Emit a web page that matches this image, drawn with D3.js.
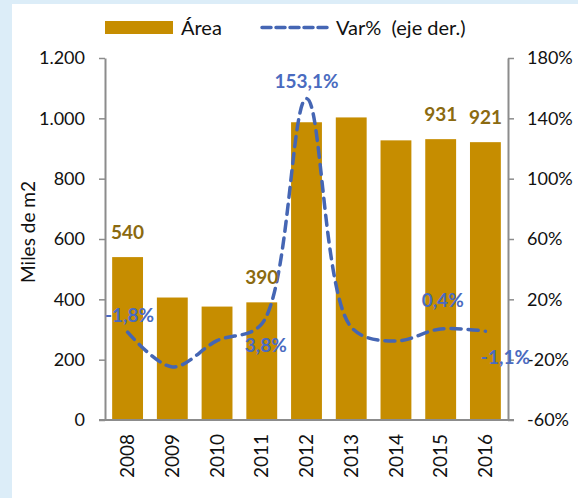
<!DOCTYPE html>
<html>
<head>
<meta charset="utf-8">
<script src="https://cdn.jsdelivr.net/npm/d3@7"></script>
<style>
  body { margin: 0; background: #dcedf8; }
  svg { display: block; }
  text { font-family: Lato, "Open Sans", sans-serif; }
</style>
</head>
<body>
<div id="chart"></div>
<script>
// values
const years = ["2008", "2009", "2010", "2011", "2012", "2013", "2014", "2015", "2016"];
const area = [540, 406, 376, 390, 987, 1003, 927, 931, 921];
const varPct = [-1.8, -24.8, -7.4, 3.8, 153.1, 1.6, -7.6, 0.4, -1.1];
const leftTicks = [0, 200, 400, 600, 800, 1000, 1200];
const rightTicks = [-60, -20, 20, 60, 100, 140, 180];
// which bars / points carry a data label
const areaLabelIdx = [0, 3, 7, 8];
const varLabelIdx = [0, 3, 4, 7, 8];

const width = 578;
const height = 498;
const barColor = "#c68d00";
const barLabelColor = "#8b6a10";
const lineColor = "#4566b4";
const varLabelColor = "#4a6bc0";
const axisColor = "#8c8c8c";

const locale = d3.formatLocale({decimal: ",", thousands: ".", grouping: [3], currency: ["", ""], minus: "-"});
const fmtNum = locale.format(",d");
const fmtPct = d => locale.format(".1f")(d) + "%";

const plot = {left: 105, right: 508, top: 58, bottom: 420};

const svg = d3.select("#chart").append("svg")
  .attr("width", width)
  .attr("height", height);

// white panel over the light blue page
svg.append("rect")
  .attr("x", 12).attr("y", 4)
  .attr("width", width - 12).attr("height", height - 4)
  .attr("fill", "#ffffff");

const x = d3.scaleBand()
  .domain(years)
  .range([plot.left, plot.right])
  .paddingInner(0.31)
  .paddingOuter(0.16);

const yL = d3.scaleLinear().domain([0, 1200]).range([plot.bottom, plot.top]);
const yR = d3.scaleLinear().domain([-60, 180]).range([plot.bottom, plot.top]);

// bars
svg.append("g").selectAll("rect")
  .data(area)
  .join("rect")
  .attr("x", (d, i) => x(years[i]))
  .attr("y", d => yL(d))
  .attr("width", x.bandwidth())
  .attr("height", d => yL(0) - yL(d))
  .attr("fill", barColor);

// left axis
const leftAxis = svg.append("g")
  .attr("transform", `translate(${plot.left},0)`)
  .call(d3.axisLeft(yL).tickValues(leftTicks).tickFormat(fmtNum).tickSize(6).tickSizeOuter(0).tickPadding(14));

// right axis
const rightAxis = svg.append("g")
  .attr("transform", `translate(${plot.right},0)`)
  .call(d3.axisRight(yR).tickValues(rightTicks).tickFormat(d => d + "%").tickSize(6).tickSizeOuter(0).tickPadding(13));

[leftAxis, rightAxis].forEach(a => {
  a.select(".domain").attr("stroke", axisColor).attr("stroke-width", 2);
  a.selectAll(".tick line").attr("stroke", axisColor).attr("stroke-width", 1.5);
  a.selectAll(".tick text").attr("fill", "#111").style("font-size", "18px");
});

// zero line / category axis
svg.append("line")
  .attr("x1", plot.left - 6).attr("x2", plot.right + 6)
  .attr("y1", yL(0)).attr("y2", yL(0))
  .attr("stroke", axisColor).attr("stroke-width", 2);

svg.append("g").selectAll("text")
  .data(years)
  .join("text")
  .attr("transform", d => `translate(${x(d) + x.bandwidth() / 2},${plot.bottom + 14}) rotate(-90)`)
  .attr("text-anchor", "end")
  .attr("dy", "0.35em")
  .style("font-size", "19px")
  .attr("fill", "#111")
  .text(d => d);

// y axis title
svg.append("text")
  .attr("transform", `translate(28,232) rotate(-90)`)
  .attr("text-anchor", "middle")
  .attr("dy", "0.35em")
  .style("font-size", "19px")
  .attr("fill", "#111")
  .text("Miles de m2");

// var% line
const cx = i => x(years[i]) + x.bandwidth() / 2;
svg.append("path")
  .datum(varPct)
  .attr("fill", "none")
  .attr("stroke", lineColor)
  .attr("stroke-width", 3.5)
  .attr("stroke-dasharray", "10,7")
  .attr("stroke-linecap", "round")
  .attr("d", d3.line()
    .x((d, i) => cx(i))
    .y(d => yR(d))
    .curve(d3.curveCatmullRom.alpha(0.5)));

// bar labels
svg.append("g").selectAll("text")
  .data(areaLabelIdx)
  .join("text")
  .attr("x", i => cx(i))
  .attr("y", i => yL(area[i]) - 25)
  .attr("dy", "0.35em")
  .attr("text-anchor", "middle")
  .style("font-size", "19px")
  .style("font-weight", "bold")
  .attr("fill", barLabelColor)
  .text(i => fmtNum(area[i]));

// var labels (placement offsets relative to the point)
const varOffsets = {0: [2, -17], 3: [4, 22], 4: [0, -17], 7: [2, -29], 8: [20, 26]};
svg.append("g").selectAll("text")
  .data(varLabelIdx)
  .join("text")
  .attr("x", i => cx(i) + varOffsets[i][0])
  .attr("y", i => yR(varPct[i]) + varOffsets[i][1])
  .attr("dy", "0.35em")
  .attr("text-anchor", "middle")
  .style("font-size", "19px")
  .style("font-weight", "bold")
  .attr("fill", varLabelColor)
  .text(i => fmtPct(varPct[i]));

// legend
const legend = svg.append("g");
legend.append("rect")
  .attr("x", 105).attr("y", 21)
  .attr("width", 68).attr("height", 13)
  .attr("fill", barColor);
legend.append("text")
  .attr("x", 181).attr("y", 28)
  .attr("dy", "0.35em")
  .style("font-size", "20px")
  .attr("fill", "#111")
  .text("Área");
legend.append("line")
  .attr("x1", 262).attr("x2", 329)
  .attr("y1", 27.5).attr("y2", 27.5)
  .attr("stroke", lineColor)
  .attr("stroke-width", 3.5)
  .attr("stroke-dasharray", "9,5")
  .attr("stroke-linecap", "round");
legend.append("text")
  .attr("x", 336).attr("y", 28)
  .attr("dy", "0.35em")
  .style("font-size", "20px")
  .attr("fill", "#111")
  .attr("xml:space", "preserve")
  .text("Var%  (eje der.)");
</script>
</body>
</html>
